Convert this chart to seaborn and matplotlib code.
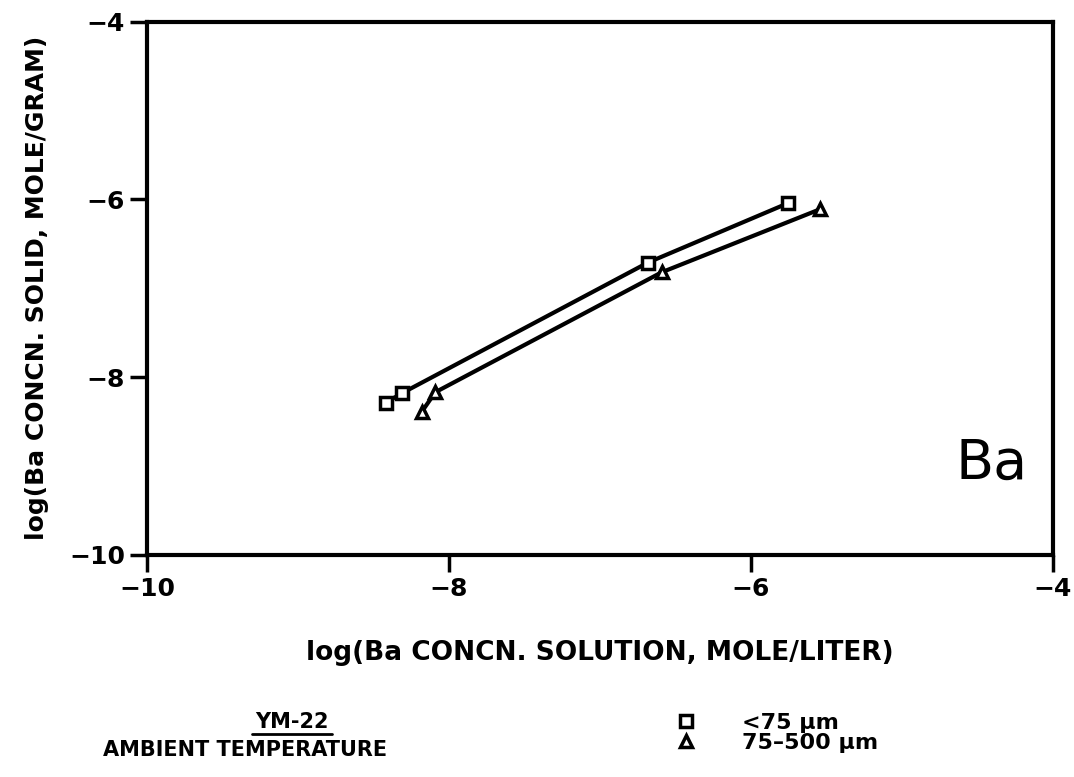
import pandas as pd
import seaborn as sns
import matplotlib.pyplot as plt
from matplotlib.lines import Line2D

# Данные
fraction_labels = ["<75 µm", "75–500 µm"]
fine_x = [-8.42, -8.31, -6.68, -5.75]
fine_y = [-8.29, -8.18, -6.71, -6.04]
coarse_x = [-8.18, -8.09, -6.59, -5.54]
coarse_y = [-8.39, -8.17, -6.82, -6.11]
tick_values = [-10, -8, -6, -4]

df = pd.concat([
    pd.DataFrame({"x": fine_x, "y": fine_y, "fraction": fraction_labels[0]}),
    pd.DataFrame({"x": coarse_x, "y": coarse_y, "fraction": fraction_labels[1]}),
])

sns.set_style("white")
plt.rcParams['font.family'] = ['DejaVu Sans']
plt.rcParams['text.color'] = 'black'
plt.rcParams['axes.labelcolor'] = 'black'
plt.rcParams['xtick.color'] = 'black'
plt.rcParams['ytick.color'] = 'black'

fig = plt.figure(figsize=(10.74, 7.77), dpi=100)
ax = fig.add_axes([0.137, 0.286, 0.843, 0.686])

marker_map = {fraction_labels[0]: "s", fraction_labels[1]: "^"}
sns.lineplot(data=df, x="x", y="y", style="fraction", markers=marker_map,
             dashes=False, color="black", linewidth=3, markersize=9,
             mfc="white", mec="black", mew=2.5, legend=False, ax=ax)

ax.set_xlim(-10, -4)
ax.set_ylim(-10, -4)
ax.set_xticks(tick_values)
ax.set_yticks(tick_values)
ax.set_xticklabels([f"\u2212{abs(v)}" for v in tick_values], fontsize=18, fontweight="bold")
ax.set_yticklabels([f"\u2212{abs(v)}" for v in tick_values], fontsize=18, fontweight="bold")
ax.tick_params(direction="out", length=12, width=2.5, pad=4, left=True, bottom=True)
for s in ax.spines.values():
    s.set_linewidth(3)
    s.set_color("black")

ax.set_xlabel("log(Ba CONCN. SOLUTION, MOLE/LITER)", fontsize=19, fontweight="bold", labelpad=28)
ax.set_ylabel("log(Ba CONCN. SOLID, MOLE/GRAM)", fontsize=18, fontweight="bold", labelpad=14)

ax.text(0.972, 0.12, "Ba", transform=ax.transAxes, ha="right", va="bottom", fontsize=40)

# подписи внизу
fig.text(0.272, 0.071, "YM-22", ha="center", va="center", fontsize=15, fontweight="bold")
fig.add_artist(Line2D([0.235, 0.309], [0.055, 0.055], color="black", lw=2, transform=fig.transFigure))
fig.text(0.228, 0.035, "AMBIENT TEMPERATURE", ha="center", va="center", fontsize=15, fontweight="bold")

handles = [Line2D([], [], marker="s", ls="none", mfc="white", mec="black", mew=2.5, markersize=9, color="black"),
           Line2D([], [], marker="^", ls="none", mfc="white", mec="black", mew=2.5, markersize=9, color="black")]
leg = fig.legend(handles, fraction_labels, loc="center left", bbox_to_anchor=(0.61, 0.057),
                 frameon=False, fontsize=16, handletextpad=2.0, labelspacing=0.0, handlelength=1.0)
for t in leg.get_texts():
    t.set_fontweight("bold")

fig.savefig("out.png", dpi=100)
